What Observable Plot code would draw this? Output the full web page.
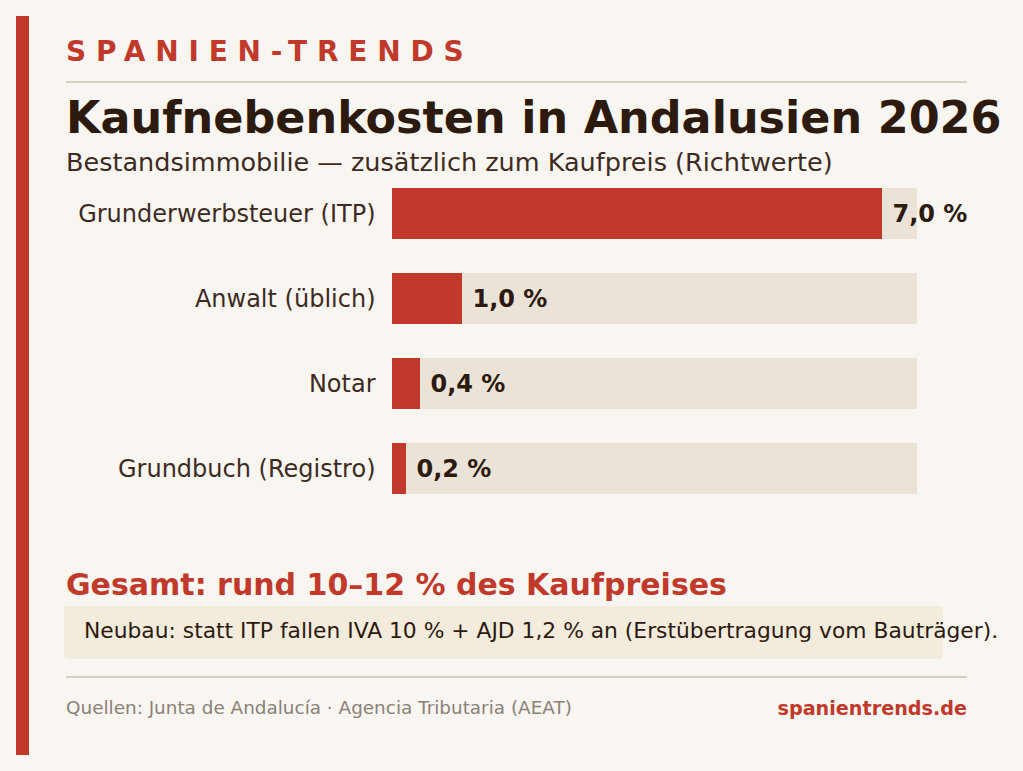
<!DOCTYPE html>
<html>
<head>
<meta charset="utf-8">
<script src="https://cdn.jsdelivr.net/npm/d3@7"></script>
<script src="https://cdn.jsdelivr.net/npm/@observablehq/plot@0.6"></script>
<style>
  html, body { margin: 0; padding: 0; background: #f9f6f1; }
  #page { position: relative; width: 1023px; height: 771px; background: #f9f6f1; overflow: hidden;
          font-family: "DejaVu Sans", sans-serif; }
  .abs { position: absolute; white-space: nowrap; line-height: 1; }
  #accent { left: 16px; top: 16px; width: 13px; height: 739px; background: #c0392b; }
  #brand { left: 66px; top: 38px; font-size: 28px; font-weight: bold; color: #c0392b; letter-spacing: 9.8px; }
  .rule { left: 66px; width: 901px; height: 2px; background: #d6cfc4; }
  #title { left: 66px; top: 96px; font-size: 44.5px; font-weight: bold; color: #2c1a0e; }
  #subtitle { left: 66px; top: 150px; font-size: 25.5px; color: #3d2b22; }
  #chart { left: 0; top: 180px; }
  #total { left: 66px; top: 570px; font-size: 30px; font-weight: bold; color: #c0392b; }
  #note { left: 64px; top: 606px; width: 879px; height: 53px; background: #f3ebdc; border-radius: 4px; }
  #notetext { left: 84px; top: 620px; font-size: 21.8px; color: #2c1a0e; }
  #source { left: 66px; top: 699px; font-size: 18.4px; color: #8a8178; }
  #site { right: 56px; top: 699px; font-size: 19.2px; font-weight: bold; color: #c0392b; }
</style>
</head>
<body>
<div id="page">
  <div id="accent" class="abs"></div>
  <div id="brand" class="abs">SPANIEN-TRENDS</div>
  <div class="abs rule" style="top:81px"></div>
  <div id="title" class="abs">Kaufnebenkosten in Andalusien 2026</div>
  <div id="subtitle" class="abs">Bestandsimmobilie — zusätzlich zum Kaufpreis (Richtwerte)</div>
  <div id="chart" class="abs"></div>
  <div id="total" class="abs">Gesamt: rund 10–12 % des Kaufpreises</div>
  <div id="note" class="abs"></div>
  <div id="notetext" class="abs">Neubau: statt ITP fallen IVA 10 % + AJD 1,2 % an (Erstübertragung vom Bauträger).</div>
  <div class="abs rule" style="top:676px"></div>
  <div id="source" class="abs">Quellen: Junta de Andalucía · Agencia Tributaria (AEAT)</div>
  <div id="site" class="abs">spanientrends.de</div>
</div>
<script>
const categories = ["Grunderwerbsteuer (ITP)", "Anwalt (üblich)", "Notar", "Grundbuch (Registro)"];
const values = [7.0, 1.0, 0.4, 0.2];
const trackMax = 7.5;

const rows = categories.map((c, i) => ({category: c, value: values[i], track: trackMax}));
const fmt = v => v.toFixed(1).replace(".", ",") + " %";

const chart = Plot.plot({
  width: 1023,
  height: 324,
  marginLeft: 392,
  marginRight: 106,
  marginTop: 7,
  marginBottom: 10,
  style: {background: "transparent", fontFamily: "DejaVu Sans, sans-serif"},
  x: {domain: [0, trackMax], axis: null},
  y: {domain: categories, paddingInner: 0.4, paddingOuter: 0, label: null},
  marks: [
    Plot.barX(rows, {x: "track", y: "category", fill: "#ebe3d8"}),
    Plot.barX(rows, {x: "value", y: "category", fill: "#c0392b"}),
    Plot.text(rows, {x: "value", y: "category", text: d => fmt(d.value), dx: 10, textAnchor: "start",
      fontSize: 24, fontWeight: "bold", fill: "#2c1a0e"}),
    Plot.axisY({tickSize: 0, tickPadding: 17, fontSize: 24, color: "#3d2b22", label: null})
  ]
});
document.getElementById("chart").appendChild(chart);
</script>
</body>
</html>
